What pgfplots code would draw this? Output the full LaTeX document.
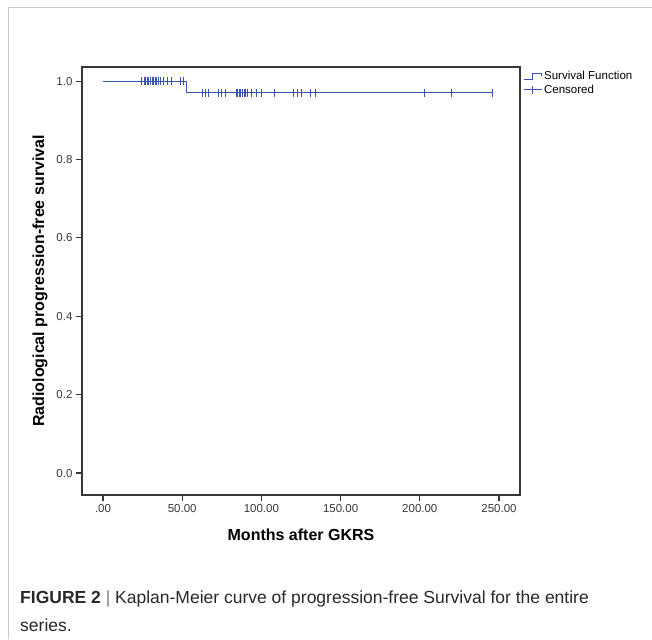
\documentclass[border=0pt]{standalone}
\usepackage{fontspec}
\setmainfont{Liberation Sans}
\usepackage{pgfplots}
\pgfplotsset{compat=1.18}
\definecolor{kmblue}{RGB}{58,84,180}
\definecolor{axgray}{RGB}{55,55,55}
\definecolor{framegray}{RGB}{200,200,200}
\definecolor{captext}{RGB}{40,40,40}
\begin{document}
\begin{tikzpicture}
\path[use as bounding box] (0pt,0pt) rectangle (652pt,639pt);
\draw[framegray, line width=1pt] (8pt,0pt) -- (8pt,631pt) -- (652pt,631pt);
\begin{axis}[
  at={(82pt,144pt)}, anchor=south west,
  scale only axis, width=438pt, height=428pt,
  xmin=-13.26, xmax=263.26, ymin=-0.056, ymax=1.036,
  xtick={0,50,100,150,200,250},
  xticklabels={.00,50.00,100.00,150.00,200.00,250.00},
  ytick={0,0.2,0.4,0.6,0.8,1.0},
  yticklabels={0.0,0.2,0.4,0.6,0.8,1.0},
  tick align=outside, major tick length=6pt,
  xtick pos=bottom, ytick pos=left,
  axis line style={axgray, line width=1.3pt},
  tick style={axgray, line width=1.2pt},
  tick label style={font=\fontsize{11.5}{13}\selectfont, text=axgray},
  xlabel={Months after GKRS},
  ylabel={Radiological progression-free survival},
  label style={font=\fontsize{16}{19}\selectfont\bfseries, text=black},
  xlabel style={at={(axis description cs:0.5,-0.0935)}, anchor=center},
  ylabel style={at={(axis description cs:-0.0959,0.5)}, anchor=center},
  legend style={at={(axis description cs:1,1)}, anchor=north west, xshift=3pt, yshift=-2pt,
    draw=none, fill=none, font=\fontsize{11.5}{12}\selectfont, inner sep=0pt,
    row sep=0pt, cells={anchor=west}},
]
\addplot[kmblue, line width=1pt,
  legend image code/.code={\draw[kmblue, line width=0.9pt] (0pt,-3pt) -- (9pt,-3pt) -- (9pt,3pt) -- (18pt,3pt) -- (18pt,0pt);}]
  coordinates {(0,1) (53,1) (53,0.97) (246,0.97)};
\addlegendentry{Survival Function}
\addplot[kmblue, only marks, mark=|, mark size=4pt, mark options={line width=0.9pt},
  legend image code/.code={\draw[kmblue, line width=0.9pt] (0pt,0pt) -- (18pt,0pt); \draw[kmblue, line width=0.9pt] (9pt,-4pt) -- (9pt,4pt);}]
  coordinates {
  (24,1) (26,1) (27,1) (28,1) (29,1) (30,1) (31,1) (32,1) (33,1) (34,1) (35,1) (36,1) (38,1)
  (41,1) (43,1) (49,1) (51,1)
  (62.5,0.97) (64.5,0.97) (66.5,0.97) (73,0.97) (75,0.97) (77,0.97)
  (84,0.97) (85,0.97) (86,0.97) (87,0.97) (88,0.97) (89,0.97) (90,0.97) (91,0.97)
  (94,0.97) (97,0.97) (100,0.97) (108,0.97)
  (120.5,0.97) (123,0.97) (125.5,0.97) (131,0.97) (134,0.97)
  (203,0.97) (220,0.97) (246,0.97)};
\addlegendentry{Censored}
\end{axis}
\node[anchor=base west, inner sep=0pt, text=captext, font=\fontsize{17.5}{21}\selectfont] at (20pt,36pt)
  {\textbf{FIGURE 2} {\color{gray}|} Kaplan-Meier curve of progression-free Survival for the entire};
\node[anchor=base west, inner sep=0pt, text=captext, font=\fontsize{17.5}{21}\selectfont] at (20pt,8pt) {series.};
\end{tikzpicture}
\end{document}
